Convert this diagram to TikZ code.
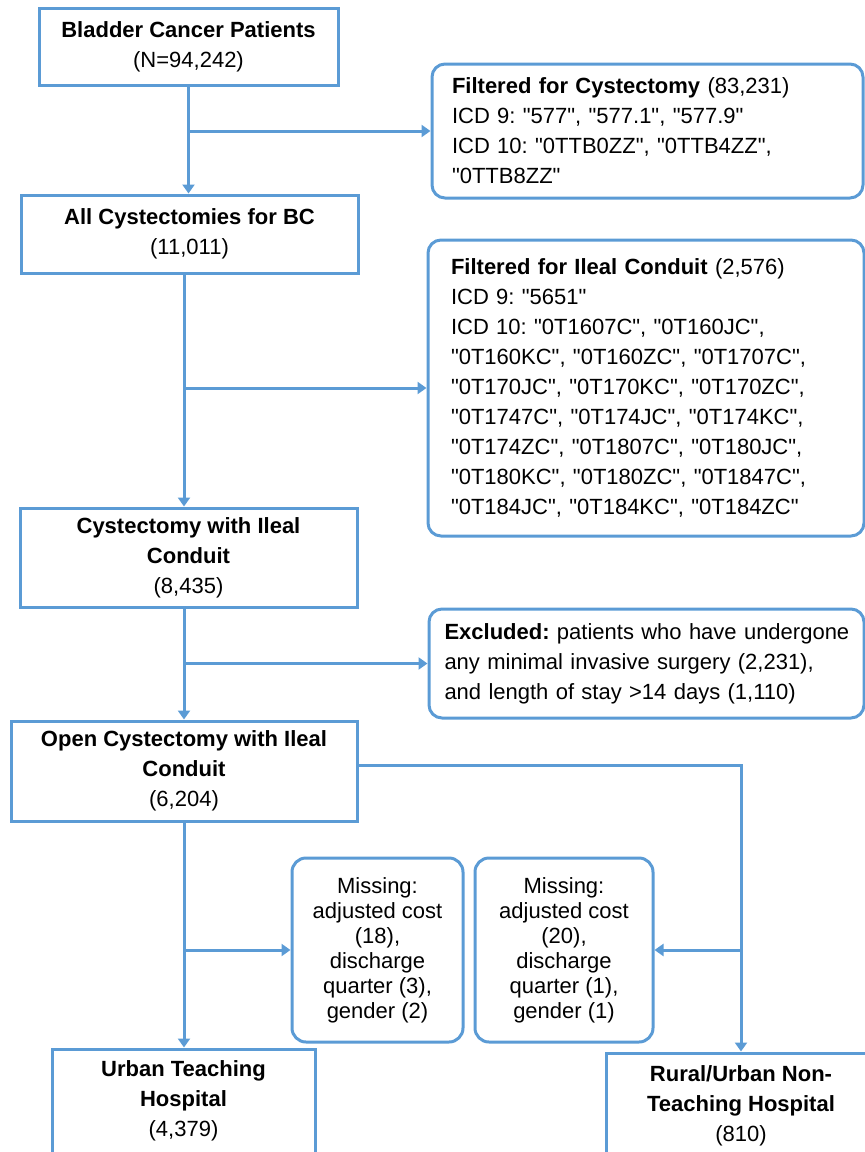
\documentclass[tikz,border=0pt]{standalone}
\usepackage{fontspec}
\setmainfont{Liberation Sans}
\usepackage{xcolor}
\usetikzlibrary{arrows.meta}
\definecolor{flowblue}{HTML}{5B9BD5}
\frenchspacing
\newcommand{\qt}[1]{\textquotedbl#1\textquotedbl}

\begin{document}
\begin{tikzpicture}[x=1pt,y=-1pt]
\tikzstyle{every node}+=[font=\fontsize{22}{30}\selectfont]
\tikzstyle{stage}=[rectangle, draw=flowblue, line width=3pt, align=center, inner sep=0pt]
\tikzstyle{note}=[rectangle, rounded corners=13pt, draw=flowblue, line width=3pt, align=left, inner ysep=0pt]
\tikzstyle{gap}=[rectangle, rounded corners=14pt, draw=flowblue, line width=3pt, align=center, inner sep=0pt, font=\fontsize{22}{25}\selectfont]
\tikzstyle{link}=[flowblue, line width=3pt, -{Triangle[length=9pt,width=12pt]}]
\useasboundingbox (0,0) rectangle (865,1152);
\clip (0,0) rectangle (865,1152);
\node[stage, minimum width=299, minimum height=77] (bcp) at (188.5,46.5) {\textbf{Bladder Cancer Patients}\\(N=94,242)};
\node[stage, minimum width=337, minimum height=78] (allcys) at (189.5,234) {\textbf{All Cystectomies for BC}\\(11,011)};
\node[stage, minimum width=337, minimum height=99] (cysic) at (188.5,557.5) {\textbf{Cystectomy with Ileal}\\\textbf{Conduit}\\(8,435)};
\node[stage, minimum width=346, minimum height=100] (opencys) at (184,771) {\textbf{Open Cystectomy with Ileal}\\\textbf{Conduit}\\(6,204)};
\node[stage, minimum width=263, minimum height=104] (urban) at (183.5,1101) {\textbf{Urban Teaching}\\\textbf{Hospital}\\(4,379)};
\node[stage, minimum width=270, minimum height=105] (rural) at (741,1105.5) {\textbf{Rural/Urban Non-}\\\textbf{Teaching Hospital}\\(810)};
\node[note, text width=391, inner xsep=20, minimum height=134] (fcys) at (647.5,131) {\textbf{Filtered for Cystectomy} (83,231)\\ICD 9: \qt{577}, \qt{577.1}, \qt{577.9}\\ICD 10: \qt{0TTB0ZZ}, \qt{0TTB4ZZ},\\\qt{0TTB8ZZ}};
\node[note, text width=390, inner xsep=23, minimum height=296] (filc) at (646,388) {\textbf{Filtered for Ileal Conduit} (2,576)\\ICD 9: \qt{5651}\\ICD 10: \qt{0T1607C}, \qt{0T160JC},\\\qt{0T160KC}, \qt{0T160ZC}, \qt{0T1707C},\\\qt{0T170JC}, \qt{0T170KC}, \qt{0T170ZC},\\\qt{0T1747C}, \qt{0T174JC}, \qt{0T174KC},\\\qt{0T174ZC}, \qt{0T1807C}, \qt{0T180JC},\\\qt{0T180KC}, \qt{0T180ZC}, \qt{0T1847C},\\\qt{0T184JC}, \qt{0T184KC}, \qt{0T184ZC}};
\node[note, text width=404, inner xsep=15.5, minimum height=109] (excl) at (646.5,663.5) {\mbox{\textbf{Excluded:} patients who have undergone}\\any minimal invasive surgery (2,231),\\and length of stay >14 days (1,110)};
\node[gap, minimum width=171, minimum height=184] (miss1) at (377.5,950) {Missing:\\adjusted cost\\(18),\\discharge\\quarter (3),\\gender (2)};
\node[gap, minimum width=178, minimum height=184] (miss2) at (564,950) {Missing:\\adjusted cost\\(20),\\discharge\\quarter (1),\\gender (1)};
\draw[link] (bcp.south) -- (bcp.south |- allcys.north);
\draw[link] (bcp.south |- fcys.west) -- (fcys.west);
\draw[link] (allcys.south -| opencys.north) -- (cysic.north -| opencys.north);
\draw[link] (opencys.north |- filc.west) -- (filc.west);
\draw[link] (cysic.south -| opencys.north) -- (opencys.north);
\draw[link] (opencys.north |- excl.west) -- (excl.west);
\draw[link] (opencys.south) -- (opencys.south |- urban.north);
\draw[link] (opencys.south |- miss1.west) -- (miss1.west);
\draw[link] ([yshift=6pt]opencys.east) -| (rural.north);
\draw[link] (rural.north |- miss2.east) -- (miss2.east);
\end{tikzpicture}
\end{document}
